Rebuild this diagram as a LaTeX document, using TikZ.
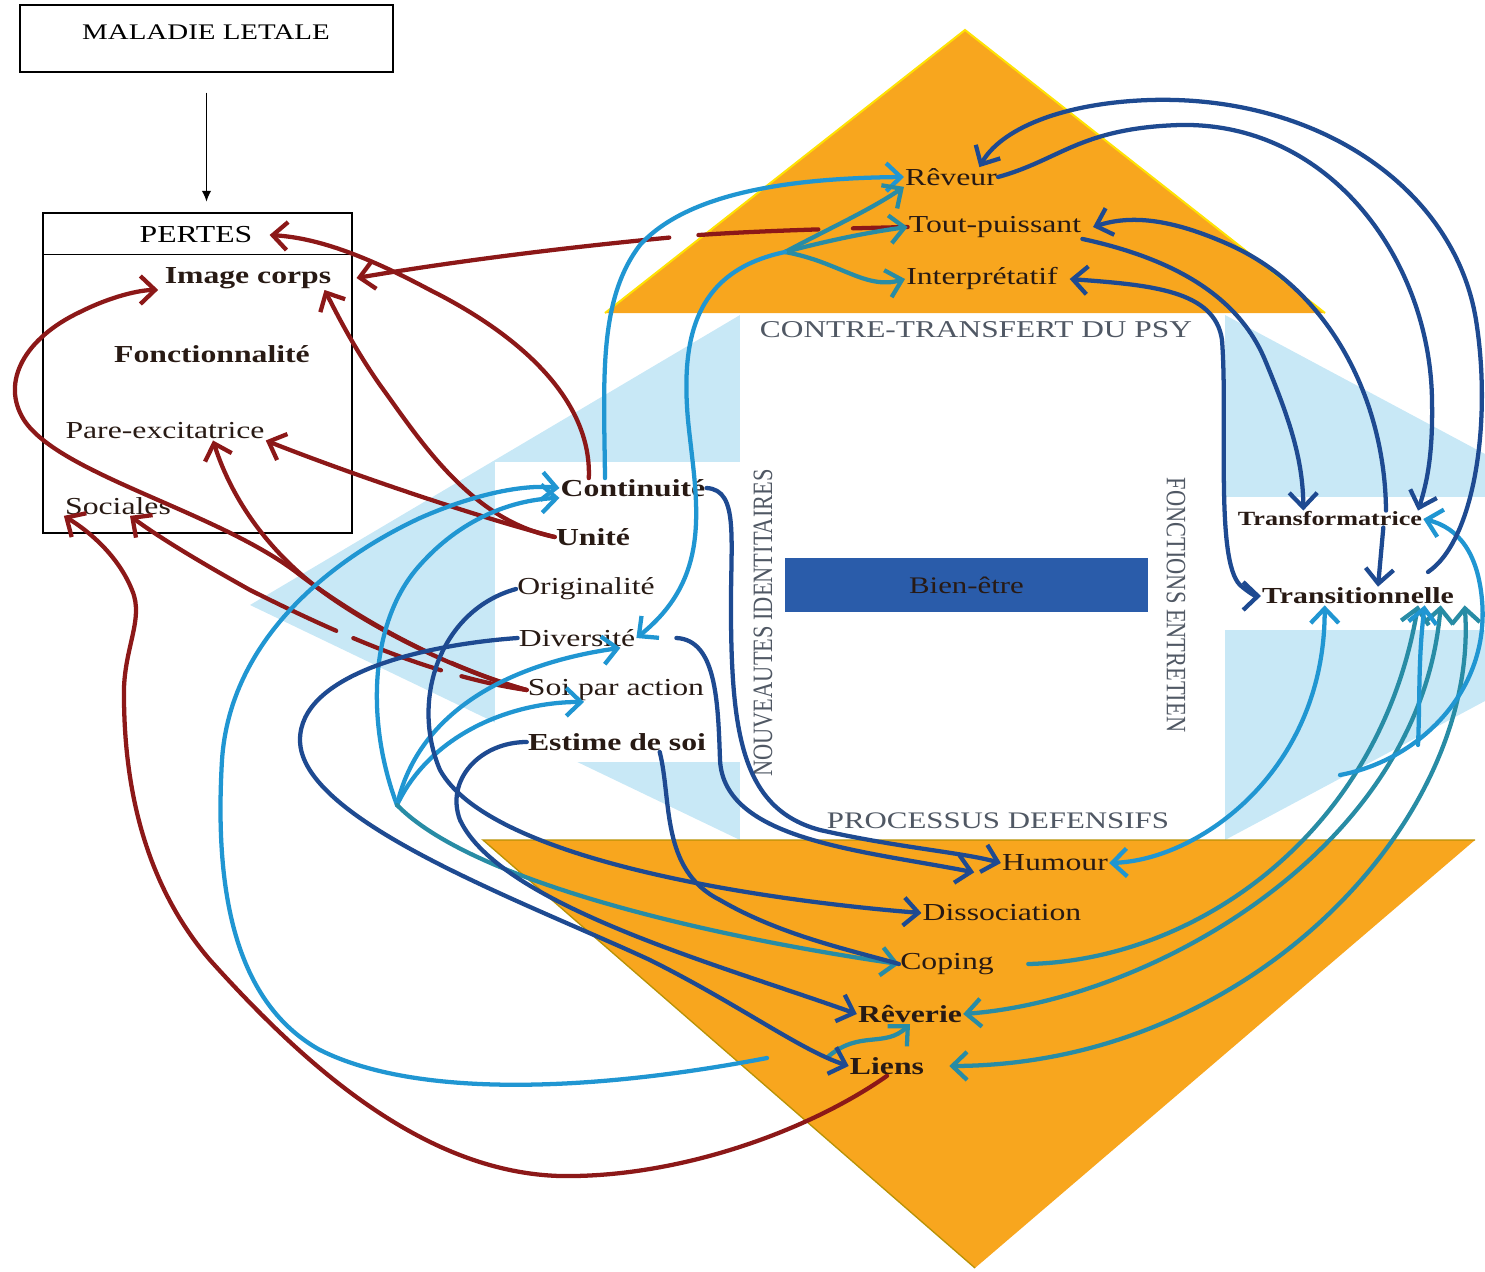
\documentclass[tikz,border=0pt]{standalone}
\usepackage{fontspec}
\setmainfont{Liberation Serif}[FakeStretch=1.3]
\newfontfamily\vertfont{Liberation Serif}[FakeStretch=0.8]
\usetikzlibrary{arrows.meta}

\definecolor{triorange}{RGB}{248,166,30}
\definecolor{bgblue}{RGB}{200,232,246}
\definecolor{wellblue}{RGB}{42,92,170}
\definecolor{lossred}{RGB}{140,24,24}
\definecolor{linkcyan}{RGB}{32,150,210}
\definecolor{linkteal}{RGB}{40,140,165}
\definecolor{linknavy}{RGB}{30,74,145}
\definecolor{inkbrown}{RGB}{40,26,20}
\definecolor{slatetxt}{RGB}{80,88,100}

\tikzset{
  lbl/.style={inner sep=0.75pt, text=inkbrown, font=\fontsize{18.3}{21}\selectfont},
  blbl/.style={lbl, font=\fontsize{18.3}{21}\selectfont\bfseries},
  hdr/.style={inner sep=0.75pt, text=slatetxt, font=\fontsize{18.1}{21}\selectfont},
  vhdr/.style={inner sep=0.75pt, text=slatetxt, font=\fontsize{21}{24}\vertfont},
  pen/.style={line width=3.2pt, line cap=round, ->},
  loss/.style={pen, draw=lossred},
  tie/.style={pen, draw=linkcyan},
  tieteal/.style={pen, draw=linkteal},
  defn/.style={pen, draw=linknavy},
}

\begin{document}
\begin{tikzpicture}[x=0.75pt,y=0.75pt,yscale=-1,xscale=1,>={Straight Barb[length=11pt,width=21pt]}]
\useasboundingbox (0,0) rectangle (1485,1271);

%Shape: background
\fill[bgblue] (250,605) -- (740,315) -- (1225,315) -- (1485,454) -- (1485,701) -- (1225,840) -- (740,840) -- cycle;
\fill[white] (740,315) rectangle (1225,840);
\fill[white] (495,462) rectangle (740,762);
\fill[white] (1225,497) rectangle (1485,630);
%Shape: Triangle top
\fill[triorange] (605,313) -- (965,30) -- (1325,313) -- cycle;
\draw[yellow!85!orange, line width=1.5pt] (605,313) -- (965,30) -- (1325,313);
%Shape: Triangle bottom
\fill[triorange] (483,840) -- (1475,840) -- (975,1268) -- cycle;
\draw[olive!60!orange, line width=1pt] (1475,840) -- (483,840) -- (975,1268);

%Flowchart: Process
\node[draw, line width=1.1pt, minimum width=279.75pt, minimum height=50.25pt, inner sep=0pt] (malbox) at (206.5,38.5) {};
\node[lbl, text=black, font=\fontsize{16.7}{19}\selectfont] (maltxt) at (206,32) {MALADIE LETALE};
\node[draw, line width=1.1pt, minimum width=231.75pt, minimum height=240pt, inner sep=0pt] (pbox) at (197.5,373) {};
\draw[line width=1.1pt] ([yshift=31.5pt]pbox.north west) -- ([yshift=31.5pt]pbox.north east);
\draw[line width=0.9pt, -{Latex[length=8pt,width=7pt]}, shorten <=15pt, shorten >=8pt] (malbox.south) -- (malbox.south |- pbox.north);

% Text Node
\node[lbl, text=black] (ptitle) at (196,235) {PERTES};
\node[blbl] (pimg) at (248,278) {Image corps};
\node[blbl] (pfonc) at (212,354) {Fonctionnalité};
\node[lbl] (ppare) at (165,431) {Pare-excitatrice};
\node[lbl] (psoc) at (118,506) {Sociales};

% Text Node
\node[lbl] (rev) at (951,177) {Rêveur};
\node[lbl] (tout) at (995,227) {Tout-puissant};
\node[lbl] (interp) at (982,279) {Interprétatif};
\node[hdr] (ct) at (976,330) {CONTRE-TRANSFERT DU PSY};

%Flowchart: Process
\node[fill=wellblue, minimum width=272.25pt, minimum height=40.5pt, text=inkbrown, font=\fontsize{17.8}{21}\selectfont] (well) at (966.5,585) {Bien-être};
\node[vhdr, rotate=90] (nouv) at (763,623) {NOUVEAUTES IDENTITAIRES};
\node[vhdr, rotate=-90] (fonc) at (1176,605) {FONCTIONS ENTRETIEN};
\node[hdr, font=\fontsize{17.8}{21}\selectfont] (proc) at (998,821) {PROCESSUS DEFENSIFS};

% Text Node
\node[blbl] (cont) at (633,488) {Continuité};
\node[blbl] (unite) at (593,537) {Unité};
\node[lbl] (orig) at (586,589) {Originalité};
\node[lbl] (div) at (577,638) {Diversité};
\node[lbl] (soi) at (616,690) {Soi par action};
\node[blbl] (est) at (617,742) {Estime de soi};

% Text Node
\node[blbl, font=\fontsize{15.1}{18}\selectfont\bfseries] (transf) at (1330,519) {Transformatrice};
\node[blbl, font=\fontsize{17.2}{20}\selectfont\bfseries] (transi) at (1358,596) {Transitionnelle};

% Text Node
\node[lbl] (hum) at (1055,863) {Humour};
\node[lbl] (diss) at (1002,913) {Dissociation};
\node[lbl] (cop) at (947,964) {Coping};
\node[blbl] (reverie) at (910,1014) {Rêverie};
\node[blbl] (liens) at (887,1066) {Liens};

\coordinate (fan) at (785,252);
\coordinate (hub) at (397,805);
\coordinate (ltail) at (767,1058);
\coordinate (rjoin) at (1340,775);
\coordinate (rvert) at (1418,745);
\coordinate (otail) at (1428,572);

% red
\draw[loss, dash pattern=on 41pt off 26pt on 90pt off 22pt on 600pt] (tout.west) .. controls (820,229) and (720,232) .. (665,238) .. controls (560,248) and (450,262) .. ([xshift=18pt]pimg.east);
\draw[loss] ([xshift=22pt]cont.north west) .. controls (592,400) and (520,335) .. (430,290) .. controls (370,258) and (320,238) .. ([xshift=12pt]ptitle.east);
\draw[loss] (unite.west) .. controls (470,515) and (340,470) .. (ppare.south east);
\draw[loss] (unite.west) .. controls (470,520) and (420,440) .. (380,385) .. controls (352,345) and (335,310) .. ([xshift=-6pt]pimg.south east);
\draw[loss, dash pattern=on 60pt off 18pt on 1200pt] (soi.west) .. controls (440,665) and (360,620) .. (300,575) .. controls (220,512) and (60,475) .. (24,420) .. controls (0,382) and (25,338) .. (80,312) .. controls (112,296) and (140,290) .. ([xshift=-4pt]pimg.south west);
\draw[loss, dash pattern=on 50pt off 16pt on 70pt off 14pt on 1000pt] (soi.west) .. controls (430,676) and (330,630) .. (250,590) .. controls (200,562) and (160,538) .. ([xshift=9pt]psoc.south);
\draw[loss] (soi.west) .. controls (460,672) and (380,632) .. (330,597) .. controls (270,555) and (232,500) .. ([xshift=36pt]ppare.south);
\draw[loss] (liens.south) .. controls (810,1130) and (680,1178) .. (560,1176) .. controls (420,1172) and (300,1060) .. (210,960) .. controls (150,890) and (125,800) .. (124,700) .. controls (122,650) and (145,620) .. (132,590) .. controls (120,560) and (95,535) .. (psoc.south west);

% cyan
\draw[tie] ([xshift=-21pt]cont.north) .. controls (604,380) and (598,300) .. (640,245) .. controls (690,190) and (800,178) .. (rev.west);
\draw[tieteal] (fan) .. controls (830,228) and (870,210) .. (rev.south west);
\draw[tieteal] (fan) .. controls (830,240) and (870,232) .. (tout.west);
\draw[tieteal] (fan) .. controls (840,262) and (865,290) .. (interp.west);
\draw[tie] (fan) .. controls (700,270) and (680,330) .. (688,420) .. controls (696,500) and (715,575) .. (div.east);
\draw[tie] (ltail) .. controls (600,1090) and (420,1100) .. (320,1050) .. controls (230,1000) and (215,880) .. (222,760) .. controls (230,640) and (330,560) .. (420,518) .. controls (470,496) and (520,484) .. (cont.west);
\draw[tie] (hub) .. controls (365,720) and (370,620) .. (420,565) .. controls (460,520) and (510,500) .. (cont.south west);
\draw[tie] (hub) .. controls (420,705) and (520,662) .. ([xshift=-12pt]div.south east);
\draw[tie] (hub) .. controls (430,735) and (510,702) .. ([xshift=-24pt]soi.south);
\draw[tieteal] (hub) .. controls (470,880) and (700,935) .. (cop.west);
\draw[tieteal] ([xshift=-15pt]liens.north west) .. controls (860,1030) and (885,1048) .. (reverie.south);
\draw[tie, <->] (hum.east) .. controls (1200,860) and (1325,770) .. ([xshift=-25pt]transi.south);
\draw[tieteal] ([xshift=25pt]cop.east) .. controls (1200,960) and (1380,830) .. ([xshift=45pt]transi.south);
\draw[tieteal, <->] (reverie.east) .. controls (1150,1000) and (1420,850) .. ([xshift=62pt]transi.south);
\draw[tieteal, <->] ([xshift=18pt]liens.east) .. controls (1250,1065) and (1480,820) .. ([xshift=80pt]transi.south);
\draw[tie] (rjoin) .. controls (1420,760) and (1490,690) .. (1482,600) .. controls (1478,555) and (1460,528) .. (transf.east);
\draw[tie] (rvert) .. controls (1420,700) and (1418,660) .. ([xshift=50pt]transi.south);

% navy
\draw[defn] (orig.west) .. controls (440,610) and (410,700) .. (440,770) .. controls (490,860) and (760,900) .. (diss.west);
\draw[defn] (div.west) .. controls (420,645) and (300,675) .. (300,740) .. controls (300,820) and (520,900) .. (650,960) .. controls (740,1005) and (800,1050) .. (liens.west);
\draw[defn] (est.west) .. controls (480,742) and (445,780) .. (460,820) .. controls (500,905) and (720,965) .. (reverie.west);
\draw[defn] (cont.east) .. controls (740,490) and (730,540) .. (731,620) .. controls (732,740) and (745,810) .. (820,830) .. controls (900,848) and (960,852) .. (hum.west);
\draw[defn] ([xshift=30pt]div.east) .. controls (716,640) and (718,700) .. (720,760) .. controls (724,840) and (860,850) .. ([xshift=-20pt]hum.south west);
\draw[defn, -] ([xshift=32pt]est.south) .. controls (672,800) and (660,870) .. (720,900) .. controls (780,935) and (850,950) .. (cop.west);
\draw[defn] (otail) .. controls (1475,540) and (1492,420) .. (1476,320) .. controls (1455,190) and (1320,95) .. (1150,100) .. controls (1060,103) and (1000,130) .. ([xshift=-14pt]rev.north east);
\draw[defn] (rev.east) .. controls (1060,160) and (1080,128) .. (1180,125) .. controls (1330,122) and (1430,260) .. (1432,400) .. controls (1433,450) and (1428,480) .. ([xshift=-4pt]transf.north east);
\draw[defn] ([xshift=42pt]transf.north) .. controls (1385,400) and (1330,290) .. (1230,245) .. controls (1170,218) and (1130,215) .. ([xshift=8pt]tout.east);
\draw[defn] (tout.south east) .. controls (1180,260) and (1240,300) .. (1265,360) .. controls (1290,420) and (1303,460) .. ([xshift=-20pt]transf.north);
\draw[defn, <->] ([xshift=8pt]interp.east) .. controls (1150,285) and (1215,290) .. (1222,340) .. controls (1228,420) and (1215,560) .. (1240,585) .. controls (1248,592) and (1255,596) .. (transi.west);
\draw[defn] ([xshift=40pt]transf.south) -- ([xshift=15pt]transi.north);
\end{tikzpicture}
\end{document}
